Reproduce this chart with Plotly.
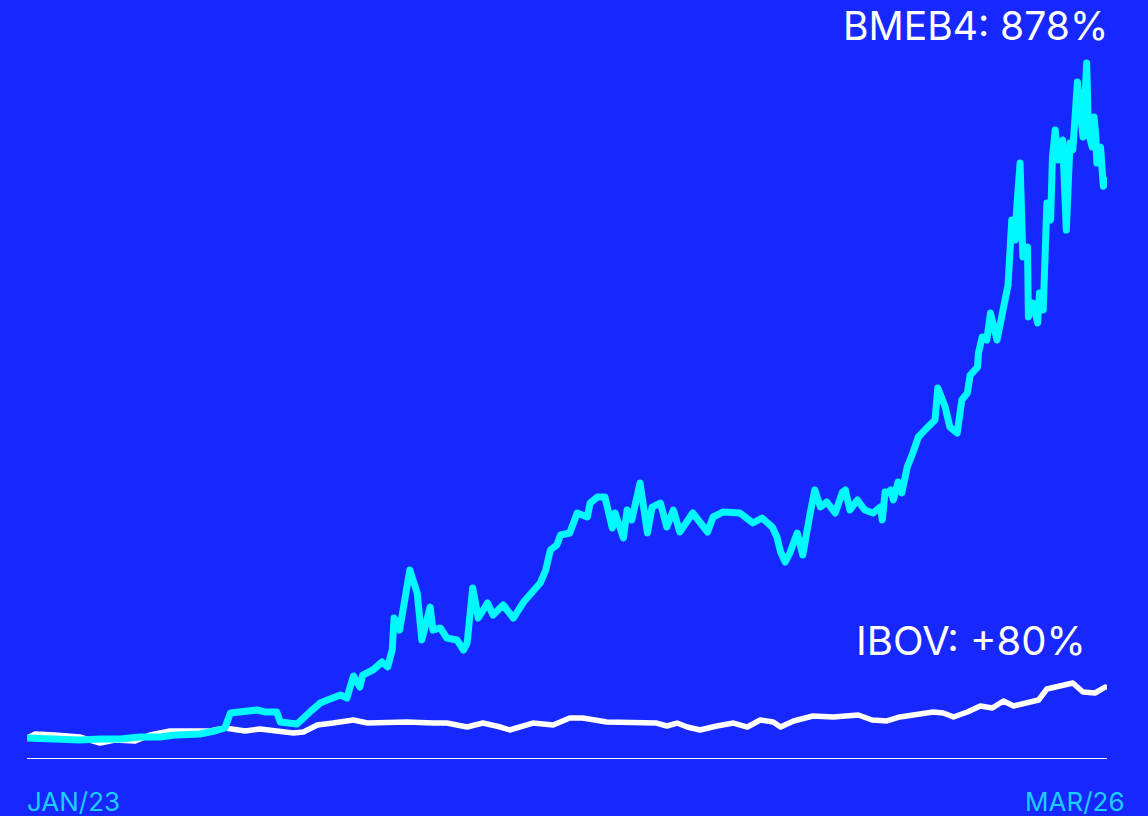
import pandas as pd
import plotly.graph_objects as go

START = pd.Timestamp("2023-01-02")

# BMEB4 cumulative return (%) vs. days since start
bmeb4_days = [0, 19, 36, 57, 79, 101, 122, 144, 160, 176, 187, 203, 214, 220, 230, 249, 257, 270,
              274, 284, 292, 306, 317, 325, 339, 346, 353, 360, 363, 374, 384, 390, 395, 397, 403,
              414, 422, 427, 436, 439, 447, 454, 465, 472, 476, 482, 488, 498, 504, 515, 526, 537,
              547, 555, 561, 566, 573, 577, 587, 595, 606, 609, 617, 625, 633, 636, 645, 649, 654,
              663, 671, 676, 685, 692, 699, 706, 720, 736, 742, 753, 771, 785, 795, 806, 811, 815,
              820, 825, 833, 839, 847, 852, 858, 865, 874, 882, 885, 890, 898, 906, 915, 923, 925,
              928, 930, 934, 937, 942, 946, 952, 958, 964, 971, 977, 982, 985, 993, 998, 1006,
              1011, 1017, 1020, 1028, 1029, 1033, 1038, 1042, 1049, 1056, 1061, 1065, 1069, 1070,
              1074, 1077, 1082, 1083, 1088, 1093, 1095, 1099, 1103, 1107, 1109, 1112, 1115, 1120,
              1124, 1128, 1131, 1136, 1139, 1142, 1146, 1148, 1152, 1154, 1156, 1157, 1161, 1164,
              1167]
bmeb4_pct = [0, -1.6, -3.2, -3.2, -1.6, -1.6, 1.6, 1.6, 4.7, 6.3, 6.3, 11.0, 15.8, 39.4, 41.0, 44.1,
             41.0, 41.0, 25.2, 23.6, 22.1, 41.0, 55.1, 59.9, 67.7, 63.0, 97.7, 80.3, 99.2, 107.1,
             119.7, 111.8, 138.6, 189.0, 170.1, 264.6, 228.4, 154.4, 206.3, 170.1, 173.3, 157.5,
             154.4, 138.6, 149.6, 236.3, 189.0, 212.6, 193.7, 209.5, 189.0, 214.2, 233.1, 244.1,
             264.6, 296.1, 304.0, 319.7, 322.9, 354.4, 348.1, 370.1, 379.6, 379.6, 330.8, 354.4,
             315.0, 359.1, 343.4, 401.6, 322.9, 363.8, 370.1, 332.3, 359.1, 324.5, 354.4, 324.5,
             348.1, 356.0, 354.4, 338.6, 346.5, 332.3, 316.6, 293.0, 277.2, 291.4, 322.9, 288.2,
             354.4, 390.6, 363.8, 371.7, 354.4, 387.5, 390.6, 359.1, 374.9, 359.1, 354.4, 363.8,
             343.4, 387.5, 385.9, 390.6, 374.9, 403.2, 385.9, 426.8, 448.9, 474.1, 485.1, 496.1,
             500.9, 551.3, 521.3, 489.8, 480.4, 532.4, 543.4, 571.7, 584.3, 606.4, 631.6, 626.9,
             669.4, 626.9, 678.8, 713.5, 815.9, 784.4, 826.9, 905.6, 757.6, 773.3, 663.1, 685.1,
             653.6, 700.9, 674.1, 842.6, 815.9, 915.1, 957.6, 910.4, 941.9, 800.1, 937.1, 926.1,
             1033.2, 978.1, 946.6, 1063.1, 952.9, 930.8, 978.1, 946.6, 905.6, 930.8, 869.0,
             878.0]

# IBOV cumulative return (%) vs. days since start
ibov_days = [0, 9, 30, 57, 79, 95, 117, 133, 155, 171, 198, 214, 236, 252, 274, 288, 299, 314,
             331, 353, 368, 389, 411, 439, 454, 476, 493, 512, 522, 547, 569, 587, 601, 627, 655,
             681, 692, 703, 714, 728, 746, 764, 779, 793, 807, 815, 829, 850, 872, 899, 914, 930,
             944, 958, 980, 991, 1002, 1017, 1031, 1044, 1056, 1067, 1082, 1094, 1103, 1114,
             1131, 1142, 1155, 1166]
ibov_pct = [0, 6.3, 4.7, 1.6, -7.9, -3.2, -4.7, 4.7, 11.0, 11.0, 11.0, 15.8, 11.0, 14.2, 9.5, 7.9,
            9.5, 20.5, 23.6, 28.4, 23.6, 25.2, 25.2, 23.6, 23.6, 17.3, 23.6, 17.3, 12.6, 23.6,
            20.5, 31.5, 31.5, 25.2, 23.6, 23.6, 18.9, 23.6, 17.3, 12.6, 18.9, 23.6, 17.3, 28.4,
            25.2, 17.3, 26.8, 34.7, 33.1, 36.2, 28.4, 26.8, 33.1, 36.2, 41.0, 39.4, 33.1, 41.0,
            50.4, 47.3, 58.3, 50.4, 55.1, 59.9, 77.2, 80.3, 86.6, 72.5, 70.9, 80.0]

start_label = "JAN/23"
end_label = "MAR/26"
bmeb4_label = "BMEB4: 878%"
ibov_label = "IBOV: +80%"

BG = "#1728FF"
CYAN = "#00F8FF"
LABEL_CYAN = "#1CCEFF"

bmeb4_dates = [START + pd.Timedelta(days=d) for d in bmeb4_days]
ibov_dates = [START + pd.Timedelta(days=d) for d in ibov_days]

fig = go.Figure()
fig.add_trace(go.Scatter(x=ibov_dates, y=ibov_pct, mode="lines",
                         line=dict(color="white", width=5.5, shape="linear"),
                         hoverinfo="skip", showlegend=False))
fig.add_trace(go.Scatter(x=bmeb4_dates, y=bmeb4_pct, mode="lines",
                         line=dict(color=CYAN, width=7, shape="linear"),
                         hoverinfo="skip", showlegend=False))

font_family = "Inter, 'Noto Sans', sans-serif"

fig.update_layout(
    width=1148, height=816,
    margin=dict(l=27, r=41, t=40, b=58),
    paper_bgcolor=BG, plot_bgcolor=BG,
    font=dict(family=font_family, color="white"),
    xaxis=dict(range=[START, START + pd.Timedelta(days=1168)], showgrid=False, zeroline=False,
               showticklabels=False, showline=True, linecolor="white", linewidth=1,
               ticks=""),
    yaxis=dict(range=[-31.5, 1099.4], visible=False),
    annotations=[
        dict(text=bmeb4_label, xref="paper", yref="paper", x=1.003, y=1.0195,
             xanchor="right", yanchor="middle", showarrow=False,
             font=dict(size=39, color="white", family=font_family)),
        dict(text=ibov_label, xref="paper", yref="paper", x=0.9825, y=0.1643,
             xanchor="right", yanchor="middle", showarrow=False,
             font=dict(size=40, color="white", family=font_family)),
        dict(text=start_label, xref="paper", yref="paper", x=-0.002, y=-0.0600,
             xanchor="left", yanchor="middle", showarrow=False,
             font=dict(size=26, color=LABEL_CYAN, family=font_family)),
        dict(text=end_label, xref="paper", yref="paper", x=1.0185, y=-0.0600,
             xanchor="right", yanchor="middle", showarrow=False,
             font=dict(size=26, color=LABEL_CYAN, family=font_family)),
    ],
)

fig.write_html("out.html",
               config={"displayModeBar": False, "staticPlot": True},
               post_script="document.body.style.margin='0';document.body.style.padding='0';"
                           "document.body.style.background='" + BG + "';"
                           "document.querySelectorAll('.scatterlayer path.js-line').forEach("
                           "function(p){p.style.strokeLinejoin='round';p.style.strokeLinecap='round';});")
